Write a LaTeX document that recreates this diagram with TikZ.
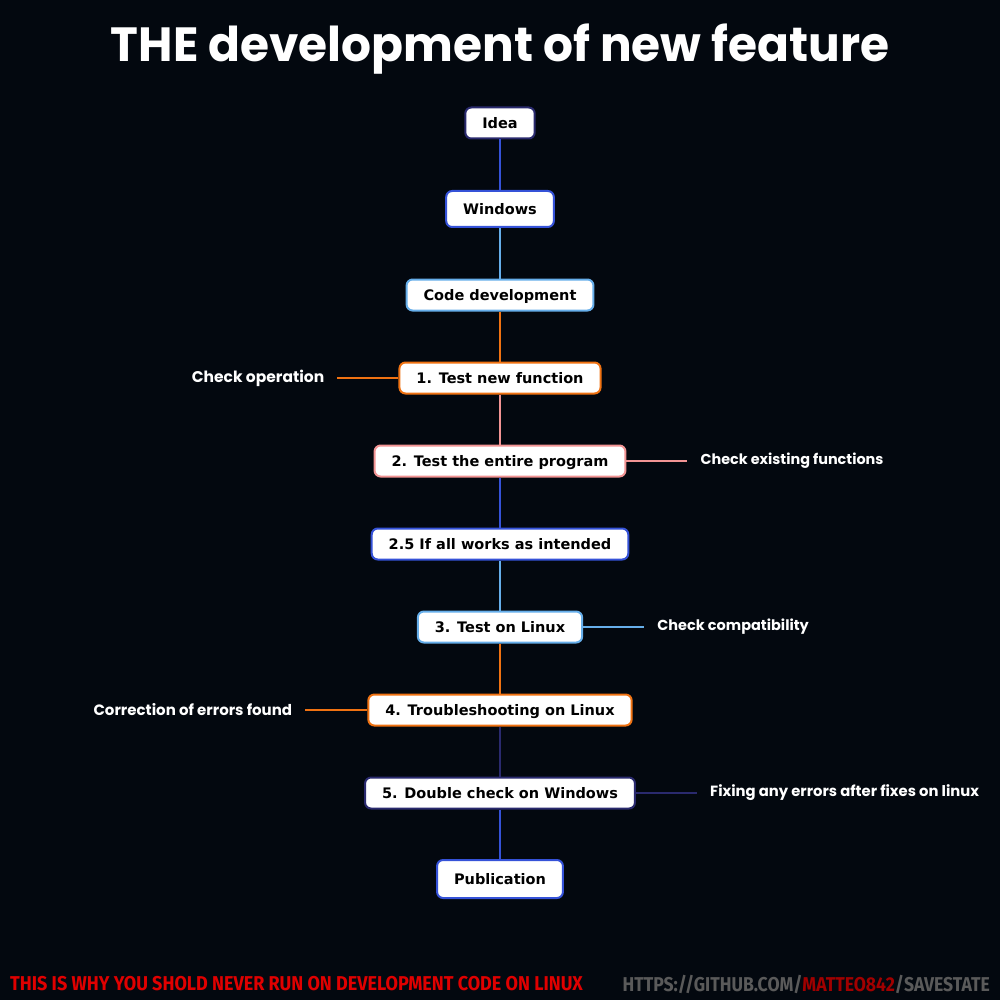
\documentclass[tikz,border=0pt]{standalone}
\usepackage{fontspec}
\setmainfont{DejaVu Sans}
\newfontfamily\roundfont{Poppins}
\newfontfamily\capsfont{Fira Sans}
\usetikzlibrary{positioning}
\definecolor{bgnight}{HTML}{03080F}
\definecolor{cnavy}{HTML}{2A2A6E}
\definecolor{cblue}{HTML}{3552D8}
\definecolor{csky}{HTML}{66AEEA}
\definecolor{corange}{HTML}{F07212}
\definecolor{csalmon}{HTML}{F29494}
\definecolor{cred}{HTML}{E00000}
\definecolor{cdarkred}{HTML}{A00000}
\definecolor{cgrey}{HTML}{5A5A5A}
\tikzset{
    stepbox/.style={draw, line width=2pt, fill=white, rounded corners=6pt,
        inner xsep=17pt, minimum height=31pt, text height=11pt, text depth=0pt,
        font=\fontsize{14.5}{16}\selectfont\bfseries, text=black},
    sidetext/.style={text=white, inner xsep=13pt, inner ysep=0pt, on grid=false,
        font=\roundfont\fontsize{15}{17}\selectfont\bfseries},
    link/.style={line width=1.6pt}
}

\begin{document}
\begin{tikzpicture}[x=1pt, y=-1pt, node distance = 83pt, on grid]
      \useasboundingbox[fill=bgnight] (0,0) rectangle (1000,1000);

      \node[text=white, anchor=base, font=\roundfont\fontsize{48}{54}\selectfont\bfseries] (title) at (500,62) {\scalebox{0.98}[1]{THE development of new feature}};

      \node[stepbox, draw=cnavy] (idea) at (500,123) {Idea};
      \node[stepbox, draw=cblue, minimum height=36pt] (win) [below = 86pt of idea] {Windows};
      \node[stepbox, draw=csky] (code) [below = 86pt of win] {Code development};
      \node[stepbox, draw=corange] (t1) [below = of code] {1. Test new function};
      \node[stepbox, draw=csalmon] (t2) [below = of t1] {2. Test the entire program};
      \node[stepbox, draw=cblue] (t25) [below = of t2] {2.5 If all works as intended};
      \node[stepbox, draw=csky] (t3) [below = of t25] {3. Test on Linux};
      \node[stepbox, draw=corange] (t4) [below = of t3] {4. Troubleshooting on Linux};
      \node[stepbox, draw=cnavy] (t5) [below = of t4] {5. Double check on Windows};
      \node[stepbox, draw=cblue, minimum height=38pt] (pub) [below = 86pt of t5] {Publication};

      \node[sidetext, font=\roundfont\fontsize{15.5}{17}\selectfont\bfseries] (op) [left = 61pt of t1] {Check operation};
      \node[sidetext, font=\roundfont\fontsize{14.4}{17}\selectfont\bfseries] (exist) [right = 61pt of t2] {Check existing functions};
      \node[sidetext, font=\roundfont\fontsize{14.5}{17}\selectfont\bfseries] (compat) [right = 61pt of t3] {Check compatibility};
      \node[sidetext] (fix) [left = 62pt of t4] {Correction of errors found};
      \node[sidetext, font=\roundfont\fontsize{14.8}{17}\selectfont\bfseries] (after) [right = 61pt of t5] {Fixing any errors after fixes on linux};

      \path[link]
        (idea) edge[cblue] (win)
        (win) edge[csky] (code)
        (code) edge[corange] (t1)
        (t1) edge[csalmon] (t2)
          edge[corange] (op)
        (t2) edge[cblue] (t25)
          edge[csalmon] (exist)
        (t25) edge[csky] (t3)
        (t3) edge[corange] (t4)
          edge[csky] (compat)
        (t4) edge[cnavy] (t5)
          edge[corange] (fix)
        (t5) edge[cblue] (pub)
          edge[cnavy] (after);

      \node[anchor=west, inner sep=0pt, font=\capsfont\fontsize{20}{22}\selectfont\bfseries] (slogan) at (10,984)
        {\scalebox{0.9}[1]{\textcolor{cred}{THIS IS WHY YOU SHOLD NEVER RUN ON DEVELOPMENT CODE ON LINUX}}};
      \node[anchor=east, inner sep=0pt, font=\capsfont\fontsize{20}{22}\selectfont\bfseries] (repo) at (990,984)
        {\scalebox{0.88}[1]{\textcolor{cgrey}{HTTPS://GITHUB.COM/}\textcolor{cdarkred}{MATTEO842}\textcolor{cgrey}{/SAVESTATE}}};
     \end{tikzpicture}
\end{document}
